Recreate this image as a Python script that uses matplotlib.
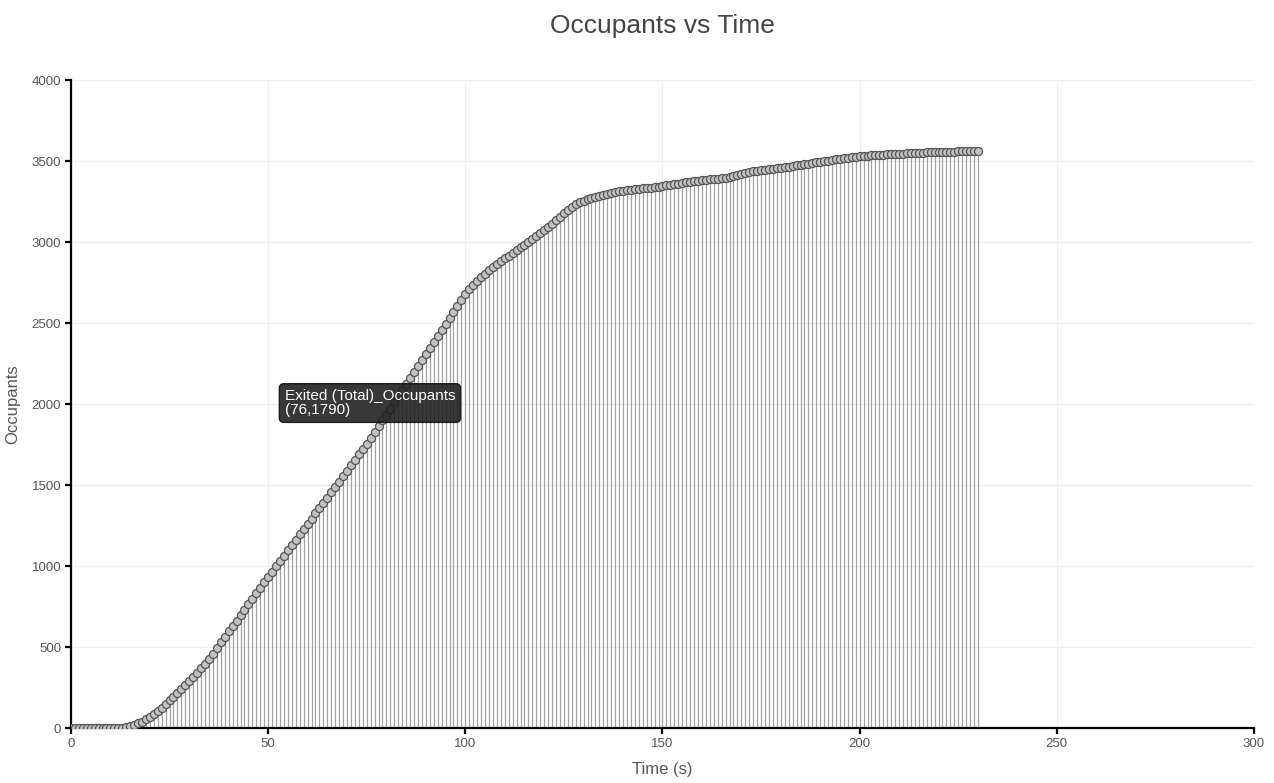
import numpy as np
import matplotlib
matplotlib.use("Agg")
import matplotlib.pyplot as plt

plt.rcParams['font.family'] = ['Liberation Sans', 'DejaVu Sans']

# Exited (Total)_Occupants, one reading per second from t=0
occupants = [
	0, 0, 0, 0, 0, 0, 0, 0, 0, 0, 0, 0, 0, 0,
	4, 10, 18, 28, 40, 54, 70, 88, 106, 126, 148, 170, 192, 215, 239, 263,
	288, 314, 341, 369, 398, 428, 460, 495, 528, 562, 596, 629, 663, 697, 730, 764,
	798, 831, 865, 899, 932, 966, 1000, 1032, 1065, 1097, 1130, 1162, 1195, 1227, 1260, 1292,
	1325, 1357, 1390, 1422, 1455, 1487, 1520, 1553, 1587, 1621, 1655, 1689, 1722, 1756, 1790, 1826,
	1862, 1899, 1935, 1972, 2010, 2047, 2084, 2121, 2158, 2195, 2233, 2270, 2307, 2344, 2382, 2419,
	2456, 2493, 2531, 2568, 2605, 2642, 2678, 2708, 2735, 2760, 2783, 2805, 2826, 2846, 2864, 2882,
	2899, 2916, 2933, 2950, 2967, 2984, 3001, 3019, 3037, 3055, 3073, 3092, 3112, 3133, 3155, 3177,
	3199, 3218, 3233, 3245, 3255, 3264, 3272, 3279, 3286, 3292, 3298, 3304, 3310, 3314, 3318, 3321,
	3324, 3327, 3329, 3331, 3334, 3336, 3339, 3342, 3345, 3349, 3353, 3357, 3361, 3365, 3369, 3373,
	3376, 3379, 3382, 3385, 3387, 3390, 3392, 3395, 3398, 3401, 3406, 3412, 3419, 3426, 3432, 3436,
	3440, 3443, 3446, 3449, 3452, 3455, 3458, 3461, 3465, 3469, 3473, 3477, 3480, 3484, 3488, 3491,
	3495, 3498, 3502, 3506, 3510, 3514, 3517, 3521, 3524, 3527, 3530, 3532, 3534, 3535, 3537, 3538,
	3540, 3541, 3542, 3544, 3545, 3546, 3547, 3548, 3549, 3551, 3552, 3553, 3554, 3555, 3556, 3557,
	3557, 3558, 3558, 3559, 3559, 3560, 3560, 3561, 3562,
]
time = list(range(len(occupants)))

x_ticks = [0, 50, 100, 150, 200, 250, 300]
y_ticks = [0, 500, 1000, 1500, 2000, 2500, 3000, 3500, 4000]

tip_label = 'Exited (Total)_Occupants'
tip_t = 76
tip_v = occupants[tip_t]

fig = plt.figure(figsize=(12.74, 7.83), dpi=100)
ax = fig.add_axes([0.0557, 0.0702, 0.9286, 0.8276])

# stems + markers
ml, sl, bl = ax.stem(time, occupants, linefmt='-', markerfmt='o', basefmt=':')
plt.setp(sl, color='#a2a2a2', linewidth=0.9)
plt.setp(ml, markersize=5.8, markerfacecolor='#c2c2c2', markeredgecolor='#555555', markeredgewidth=0.9, zorder=3)
plt.setp(bl, color='black', linewidth=1.2)

ax.set_xlim(0, 300)
ax.set_ylim(0, 4000)
ax.set_xticks(x_ticks)
ax.set_yticks(y_ticks)
ax.grid(True, color='#efefef', linewidth=0.9)
ax.set_axisbelow(True)

for s in ['top', 'right']:
	ax.spines[s].set_visible(False)
for s in ['left', 'bottom']:
	ax.spines[s].set_color('black')
	ax.spines[s].set_linewidth(1.6)
ax.tick_params(axis='both', direction='out', length=4, width=1.6, color='black',
	labelcolor='#555555', labelsize=9.5, pad=3)

ax.set_xlabel('Time (s)', fontsize=12, color='#555555', labelpad=9)
ax.set_ylabel('Occupants', fontsize=12, color='#555555', labelpad=8)
ax.set_title('Occupants vs Time', fontsize=19, color='#444444', y=1.0, pad=34)

# hover tooltip
ax.annotate(tip_label + '\n(' + str(tip_t) + ',' + str(tip_v) + ')',
	xy=(tip_t, tip_v), xytext=(-86, 49), textcoords='offset pixels',
	ha='left', va='top', fontsize=11, color='white', linespacing=1.0,
	bbox=dict(boxstyle='round,pad=0.35,rounding_size=0.3', facecolor='#222222',
		edgecolor='#111111', alpha=0.9), zorder=5)

plt.savefig('out.png', dpi=100)
